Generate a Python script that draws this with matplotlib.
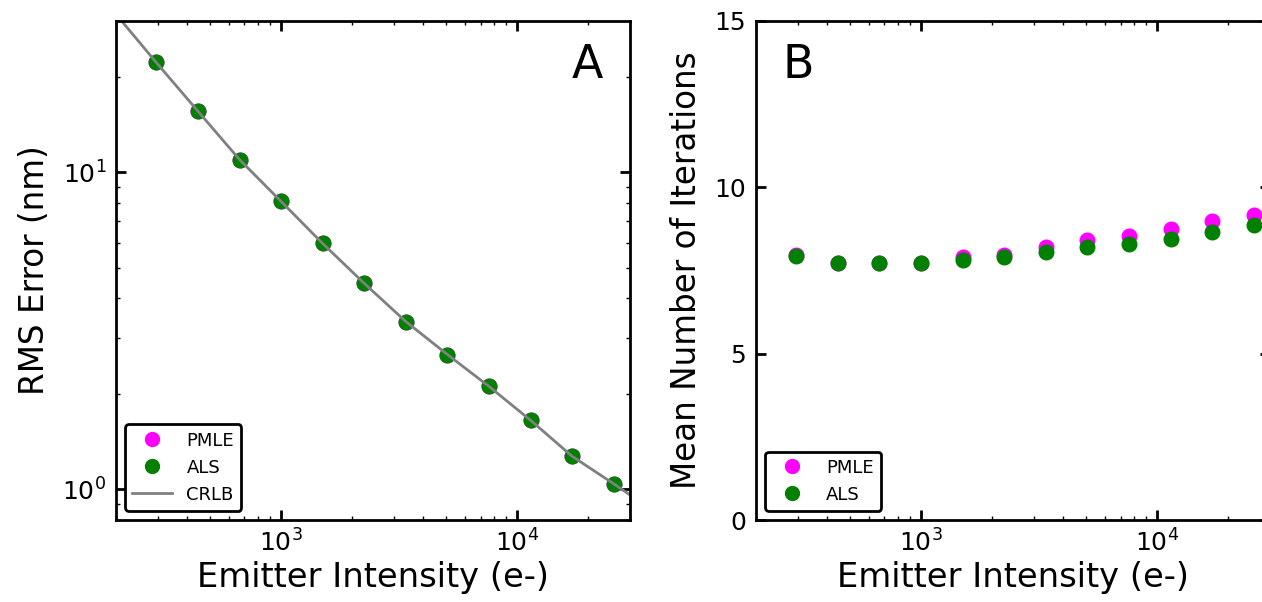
import numpy as np
import matplotlib
matplotlib.use("Agg")
import matplotlib.pyplot as plt

# emitter intensities (photons) used for both panels
intensity = [296, 444, 667, 1000, 1500, 2250, 3375, 5063, 7594, 11391, 17086, 25629]

# panel A: RMS localisation error (nm)
rms_pmle = [22.2, 15.6, 10.96, 8.09, 5.96, 4.46, 3.38, 2.66, 2.11, 1.65, 1.27, 1.04]
rms_als = [22.2, 15.6, 10.96, 8.09, 5.96, 4.46, 3.38, 2.66, 2.11, 1.65, 1.27, 1.04]
crlb_x = [200, 296, 444, 667, 1000, 1500, 2250, 3375, 5063, 7594, 11391, 17086, 25629, 30000]
crlb_y = [31.5, 22.2, 15.6, 10.96, 8.09, 5.96, 4.46, 3.38, 2.66, 2.11, 1.65, 1.27, 1.04, 0.96]

# panel B: mean number of iterations
iter_pmle = [7.96, 7.73, 7.73, 7.73, 7.90, 7.98, 8.22, 8.41, 8.55, 8.74, 8.99, 9.16]
iter_als = [7.95, 7.73, 7.72, 7.73, 7.80, 7.91, 8.05, 8.20, 8.31, 8.46, 8.67, 8.86]

plt.rcParams['font.family'] = 'DejaVu Sans'

fig = plt.figure(figsize=(12.62, 6.02), dpi=100)
axA = fig.add_axes([0.0919, 0.1362, 0.4073, 0.829])
axB = fig.add_axes([0.5990, 0.1362, 0.4073, 0.829])

ms = 10.5
axA.plot(intensity, rms_pmle, 'o', color='magenta', ms=ms, label='PMLE')
axA.plot(intensity, rms_als, 'o', color='green', ms=ms, label='ALS')
axA.plot(crlb_x, crlb_y, '-', color='gray', lw=2, label='CRLB')
axA.set_xscale('log')
axA.set_yscale('log')
axA.set_xlim(200, 30000)
axA.set_ylim(0.8, 30)
axA.set_ylabel('RMS Error (nm)', fontsize=23.5, labelpad=8)

axB.plot(intensity, iter_pmle, 'o', color='magenta', ms=ms, label='PMLE')
axB.plot(intensity, iter_als, 'o', color='green', ms=ms, label='ALS')
axB.set_xscale('log')
axB.set_xlim(200, 30000)
axB.set_ylim(0, 15)
axB.set_yticks([0, 5, 10, 15])
axB.set_ylabel('Mean Number of Iterations', fontsize=23.5, labelpad=8)

for ax in (axA, axB):
    ax.set_xlabel('Emitter Intensity (e-)', fontsize=24.3, labelpad=3)
    ax.tick_params(which='both', direction='in', top=True, right=True, labelsize=18, pad=7)
    ax.tick_params(which='major', length=7, width=2)
    ax.tick_params(which='minor', length=3, width=1)
    for s in ax.spines.values():
        s.set_linewidth(2)
    leg = ax.legend(loc='lower left', fontsize=13, frameon=True, fancybox=True,
                    borderaxespad=0.5, handlelength=2.2, markerscale=0.95)
    leg.get_frame().set_edgecolor('black')
    leg.get_frame().set_linewidth(2)
    leg.get_frame().set_alpha(1)

axA.text(0.947, 0.955, 'A', transform=axA.transAxes, fontsize=33, ha='right', va='top')
axB.text(0.052, 0.955, 'B', transform=axB.transAxes, fontsize=33, ha='left', va='top')

fig.savefig('out.png', dpi=100)
